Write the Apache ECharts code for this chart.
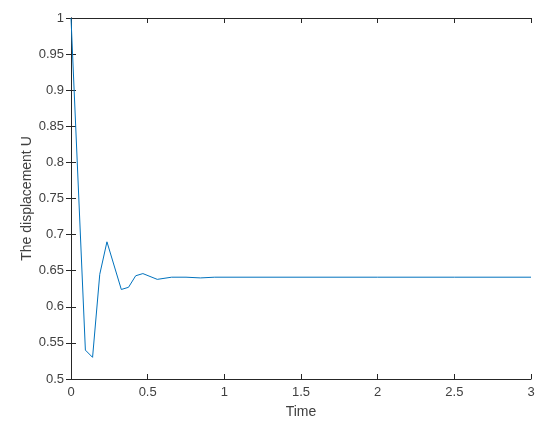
<!DOCTYPE html>
<html>
<head>
<meta charset="utf-8">
<script src="https://cdn.jsdelivr.net/npm/echarts@6/dist/echarts.min.js"></script>
<style>html,body{margin:0;padding:0;background:#fff}#c{width:550px;height:434px}</style>
</head>
<body>
<div id="c"></div>
<script>
const timeValues = [0, 0.09375, 0.140625, 0.1875, 0.234375, 0.328125, 0.375, 0.421875, 0.46875, 0.5625, 0.65625, 0.75, 0.84375, 0.9375, 1.5, 2, 2.5, 3];
const displacement = [1, 0.540, 0.530, 0.645, 0.690, 0.624, 0.627, 0.643, 0.646, 0.638, 0.641, 0.641, 0.640, 0.641, 0.641, 0.641, 0.641, 0.641];
const xTickLabels = ['0', '0.5', '1', '1.5', '2', '2.5', '3'];
const yTickLabels = ['0.5', '0.55', '0.6', '0.65', '0.7', '0.75', '0.8', '0.85', '0.9', '0.95', '1'];

const axisColor = '#262626';
const labelColor = '#404040';
const font = 'Liberation Sans, Arial, sans-serif';
const chart = echarts.init(document.getElementById('c'), null, {renderer: 'canvas'});
const commonLine = {show: true, lineStyle: {color: axisColor, width: 1}};
chart.setOption({
  animation: false,
  grid: {left: 71, right: 19, top: 18, bottom: 55, containLabel: false},
  xAxis: [{
    type: 'value', min: 0, max: 3, interval: 0.5, position: 'bottom',
    name: 'Time', nameLocation: 'middle', nameGap: 26, nameMoveOverlap: false,
    nameTextStyle: {color: labelColor, fontSize: 14, fontFamily: font},
    axisLine: commonLine,
    axisTick: {show: true, inside: true, length: 5, lineStyle: {color: axisColor}},
    axisLabel: {color: labelColor, fontSize: 13, fontFamily: font, margin: 7,
      formatter: v => xTickLabels[Math.round(v / 0.5)] ?? ''},
    splitLine: {show: false}
  }, {
    type: 'value', min: 0, max: 3, interval: 0.5, position: 'top',
    axisLine: commonLine,
    axisTick: {show: true, inside: true, length: 5, lineStyle: {color: axisColor}},
    axisLabel: {show: false}, splitLine: {show: false}
  }],
  yAxis: [{
    type: 'value', min: 0.5, max: 1, interval: 0.05, position: 'left',
    name: 'The displacement U', nameLocation: 'middle', nameGap: 37, nameMoveOverlap: false,
    nameTextStyle: {color: labelColor, fontSize: 14, fontFamily: font},
    axisLine: commonLine,
    axisTick: {show: true, inside: true, length: 5, lineStyle: {color: axisColor}},
    axisLabel: {color: labelColor, fontSize: 13, fontFamily: font, margin: 7,
      formatter: v => yTickLabels[Math.round((v - 0.5) / 0.05)] ?? ''},
    splitLine: {show: false}
  }, {
    type: 'value', min: 0.5, max: 1, interval: 0.05, position: 'right',
    axisLine: commonLine,
    axisTick: {show: true, inside: true, length: 5, lineStyle: {color: axisColor}},
    axisLabel: {show: false}, splitLine: {show: false}
  }],
  series: [{
    type: 'line',
    xAxisIndex: 0, yAxisIndex: 0,
    data: timeValues.map((t, i) => [t, displacement[i]]),
    showSymbol: false,
    lineStyle: {color: '#0072BD', width: 1},
    clip: true
  }]
});
</script>
</body>
</html>
